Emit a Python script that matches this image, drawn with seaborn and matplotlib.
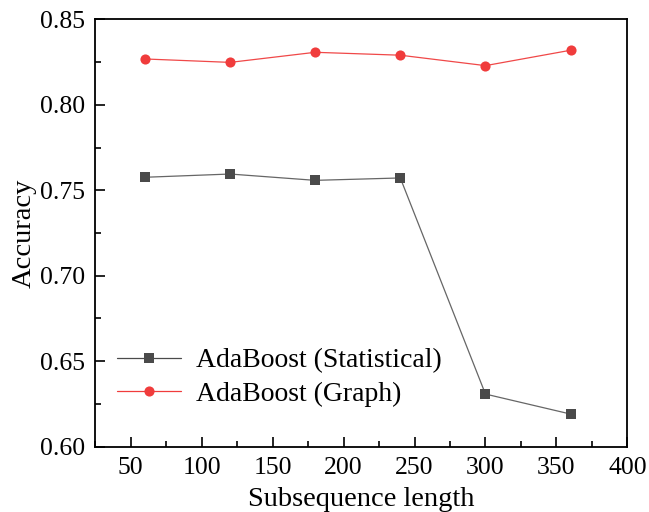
import numpy as np
import pandas as pd
import seaborn as sns
import matplotlib.pyplot as plt
from matplotlib.ticker import MultipleLocator

# data
subseq_len = [60, 120, 180, 240, 300, 360]
acc_statistical = [0.7576, 0.7595, 0.7558, 0.7572, 0.6308, 0.6191]
acc_graph = [0.8268, 0.8248, 0.8307, 0.8290, 0.8229, 0.8319]

df = pd.DataFrame({
    'Subsequence length': subseq_len * 2,
    'Accuracy': acc_statistical + acc_graph,
    'Model': ['AdaBoost (Statistical)'] * 6 + ['AdaBoost (Graph)'] * 6,
})

sns.set_style('ticks', {'axes.edgecolor': 'black', 'text.color': 'black',
                        'xtick.color': 'black', 'ytick.color': 'black',
                        'axes.labelcolor': 'black'})
plt.rcParams['font.family'] = ['Liberation Serif', 'DejaVu Serif']

fig = plt.figure(figsize=(6.49, 5.12), dpi=100)
ax = fig.add_axes([0.1468, 0.1275, 0.8198, 0.8348])

palette = {'AdaBoost (Statistical)': '#4a4a4a', 'AdaBoost (Graph)': '#f03c3c'}
sns.lineplot(data=df, x='Subsequence length', y='Accuracy', hue='Model',
             style='Model', markers={'AdaBoost (Statistical)': 's', 'AdaBoost (Graph)': 'o'},
             dashes=False, palette=palette, linewidth=0.9, markersize=7.3,
             markeredgewidth=0, ax=ax)
# line a bit lighter than the markers
for line, c in zip(ax.lines[:2], ['#666666', '#f04848']):
    line.set_color(c)
    line.set_markerfacecolor('#4a4a4a' if c == '#666666' else '#f03c3c')

ax.set_xlim(25, 400)
ax.set_ylim(0.60, 0.85)
ax.xaxis.set_major_locator(MultipleLocator(50))
ax.xaxis.set_minor_locator(MultipleLocator(25))
ax.yaxis.set_major_locator(MultipleLocator(0.05))
ax.yaxis.set_minor_locator(MultipleLocator(0.025))
ax.yaxis.set_major_formatter(plt.FormatStrFormatter('%.2f'))
ax.tick_params(which='both', direction='in', labelsize=18.5, width=1.2, pad=7.5)
ax.tick_params(which='major', length=7)
ax.tick_params(which='minor', length=4)
for s in ax.spines.values():
    s.set_visible(True)
    s.set_linewidth(1.3)

ax.set_xlabel('Subsequence length', fontsize=20.5, labelpad=6)
ax.set_ylabel('Accuracy', fontsize=20.5, labelpad=2)

h, l = ax.get_legend_handles_labels()
ax.legend(h, l, loc='lower left', bbox_to_anchor=(-0.006, 0.035), frameon=False,
          fontsize=20, handlelength=2.3, handletextpad=0.55, labelspacing=0.28)

fig.savefig('out.png', dpi=100)
